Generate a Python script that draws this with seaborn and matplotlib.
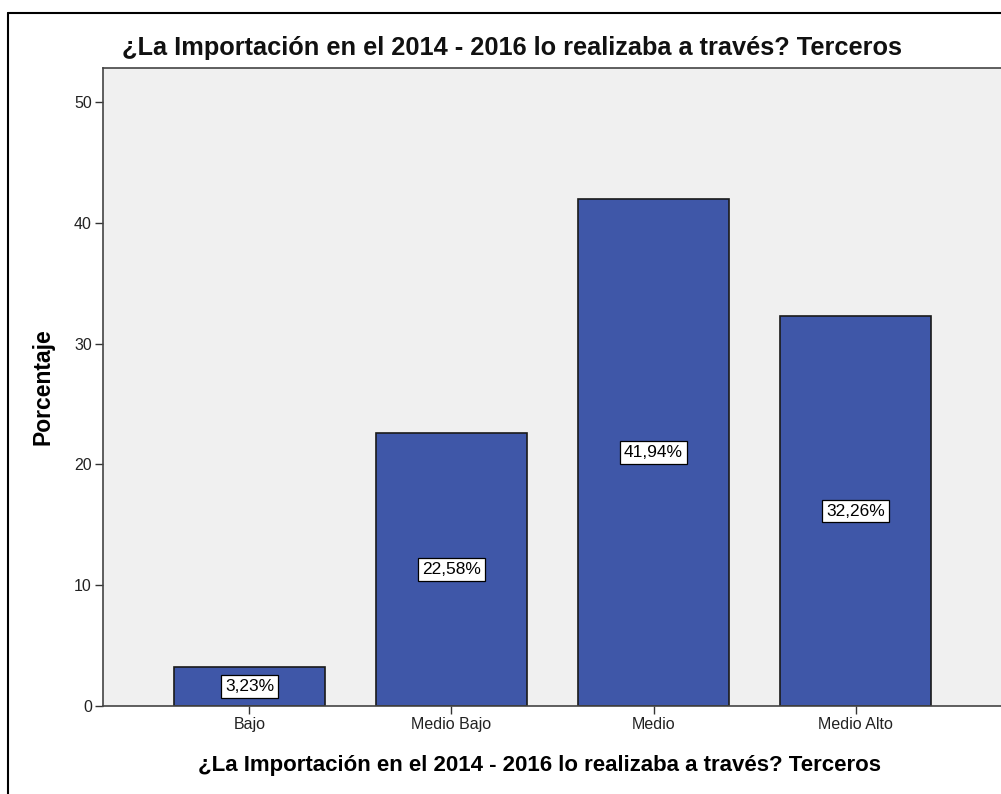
import matplotlib
matplotlib.use("Agg")
import matplotlib.pyplot as plt
import seaborn as sns
import pandas as pd
from matplotlib.lines import Line2D

# datos
categorias = ["Bajo", "Medio Bajo", "Medio", "Medio Alto"]
porcentajes = [3.23, 22.58, 41.94, 32.26]
etiquetas = ["3,23%", "22,58%", "41,94%", "32,26%"]
ticks_y = [0, 10, 20, 30, 40, 50]

titulo = "¿La Importación en el 2014 - 2016 lo realizaba a través? Terceros"

df = pd.DataFrame({"categoria": categorias, "porcentaje": porcentajes})

sns.set_style("white")
plt.rcParams["font.family"] = ["Liberation Sans", "DejaVu Sans"]

W, H = 1001, 794
fig = plt.figure(figsize=(W / 100, H / 100), dpi=100)
ax = fig.add_axes([103 / W, 1 - 706 / H, (1002 - 103) / W, (706 - 68) / H])
ax.set_facecolor("#f0f0f0")

sns.barplot(data=df, x="categoria", y="porcentaje", color="#3f57a8", saturation=1,
            width=0.75, edgecolor="#1a1a1a", linewidth=1.2, ax=ax)

for i, (v, t) in enumerate(zip(porcentajes, etiquetas)):
    ax.text(i, v / 2, t, ha="center", va="center", fontsize=12.5, color="black",
            bbox=dict(boxstyle="square,pad=0.22", facecolor="white", edgecolor="black", linewidth=0.9))

ax.set_xlim(-0.725, 3.725)
ax.set_ylim(0, 52.8)
ax.set_yticks(ticks_y)
ax.set_yticklabels([str(t) for t in ticks_y])
ax.tick_params(axis="both", direction="out", length=6, width=1, color="#333333",
               labelsize=11.5, labelcolor="#222222", pad=2)
ax.xaxis.set_ticks_position("bottom")
ax.yaxis.set_ticks_position("left")

for s in ax.spines.values():
    s.set_color("#444444")
    s.set_linewidth(1.2)

ax.set_xlabel(titulo, fontsize=16, fontweight="bold", color="black")
ax.xaxis.set_label_coords((539 - 103) / 899, -(766 - 706) / 638, transform=ax.transAxes)
ax.xaxis.label.set_va("center")
ax.set_ylabel("Porcentaje", fontsize=16.5, fontweight="bold", labelpad=14, color="black")

fig.text(512 / W, 1 - 48 / H, titulo, ha="center", va="center", fontsize=18.3,
         fontweight="bold", color="#111111")

# marco exterior
fig.add_artist(Line2D([8 / W, 8 / W], [0, 1 - 13 / H], transform=fig.transFigure, color="black", linewidth=1.5))
fig.add_artist(Line2D([8 / W, 1], [1 - 13 / H, 1 - 13 / H], transform=fig.transFigure, color="black", linewidth=1.5))

fig.savefig("out.png", dpi=100, facecolor="white")
